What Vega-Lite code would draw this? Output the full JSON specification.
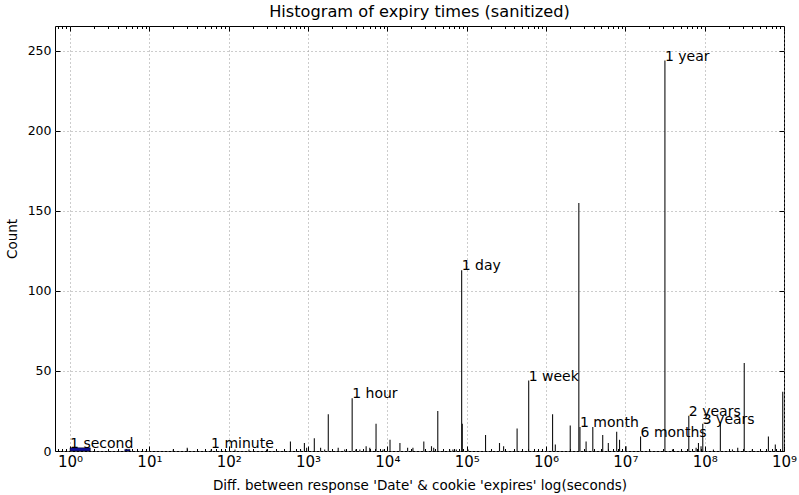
{
  "$schema": "https://vega.github.io/schema/vega-lite/v6.json",
  "autosize": {"type": "none"},
  "padding": {"left": 55, "top": 26, "right": 15, "bottom": 44},
  "width": 729,
  "height": 425,
  "background": "white",
  "config": {
    "font": "DejaVu Sans",
    "view": {"stroke": "#000", "strokeWidth": 1},
    "axis": {"domain": false, "labelColor": "#000", "titleColor": "#000", "tickColor": "#000", "labelFontSize": 12.5, "titleFontSize": 13.5, "titleFontWeight": "normal"}
  },
  "title": {"text": "Histogram of expiry times (sanitized)", "fontSize": 16.2, "fontWeight": "normal", "color": "#000", "anchor": "middle", "offset": 5},
  "datasets": {
    "spikes": [
      {"t": 20, "n": 1}, {"t": 30, "n": 2}, {"t": 60, "n": 1}, {"t": 120, "n": 1}, {"t": 180, "n": 1},
      {"t": 300, "n": 1}, {"t": 600, "n": 6}, {"t": 805, "n": 1}, {"t": 900, "n": 5}, {"t": 960, "n": 2},
      {"t": 1200, "n": 8}, {"t": 1440, "n": 2}, {"t": 1620, "n": 1}, {"t": 1800, "n": 23}, {"t": 2400, "n": 2},
      {"t": 2900, "n": 1}, {"t": 3600, "n": 33}, {"t": 4000, "n": 1}, {"t": 4500, "n": 1}, {"t": 5400, "n": 3},
      {"t": 6000, "n": 2}, {"t": 7200, "n": 17}, {"t": 8800, "n": 1}, {"t": 10800, "n": 7}, {"t": 14400, "n": 5},
      {"t": 18000, "n": 2}, {"t": 21000, "n": 2}, {"t": 28800, "n": 6}, {"t": 36000, "n": 3}, {"t": 38400, "n": 2},
      {"t": 43200, "n": 25}, {"t": 61000, "n": 1}, {"t": 67000, "n": 1}, {"t": 74000, "n": 1}, {"t": 86400, "n": 113},
      {"t": 88000, "n": 17}, {"t": 104000, "n": 1}, {"t": 172800, "n": 10}, {"t": 259200, "n": 5}, {"t": 292000, "n": 3},
      {"t": 432000, "n": 14}, {"t": 604800, "n": 44}, {"t": 1209600, "n": 23}, {"t": 1310000, "n": 4}, {"t": 2020000, "n": 16},
      {"t": 2592000, "n": 155}, {"t": 2678400, "n": 15}, {"t": 3200000, "n": 6}, {"t": 3888000, "n": 15}, {"t": 5184000, "n": 10},
      {"t": 6100000, "n": 5}, {"t": 7776000, "n": 12}, {"t": 8450000, "n": 7}, {"t": 10200000, "n": 3}, {"t": 15552000, "n": 9},
      {"t": 20200000, "n": 1}, {"t": 31536000, "n": 244}, {"t": 39300000, "n": 1}, {"t": 63072000, "n": 22}, {"t": 78000000, "n": 2},
      {"t": 83500000, "n": 5}, {"t": 90000000, "n": 3}, {"t": 94608000, "n": 17}, {"t": 129000000, "n": 1}, {"t": 157680000, "n": 18},
      {"t": 224000000, "n": 1}, {"t": 261000000, "n": 2}, {"t": 315360000, "n": 55}, {"t": 398000000, "n": 1}, {"t": 636000000, "n": 9},
      {"t": 777000000, "n": 4}, {"t": 964000000, "n": 37}
    ],
    "bins": [
      {"t0": 1, "t1": 1.8, "n": 2},
      {"t0": 4.9, "t1": 5.7, "n": 1}
    ],
    "labels": [
      {"t": 1, "n": 2, "label": "1 second"},
      {"t": 60, "n": 2, "label": "1 minute"},
      {"t": 3600, "n": 33, "label": "1 hour"},
      {"t": 86400, "n": 113, "label": "1 day"},
      {"t": 604800, "n": 44, "label": "1 week"},
      {"t": 2678400, "n": 15, "label": "1 month"},
      {"t": 15552000, "n": 9, "label": "6 months"},
      {"t": 31536000, "n": 244, "label": "1 year"},
      {"t": 63072000, "n": 22, "label": "2 years"},
      {"t": 94608000, "n": 17, "label": "3 years"}
    ]
  },
  "resolve": {"axis": {"x": "independent", "y": "independent"}},
  "layer": [
    {
      "data": {"name": "spikes"},
      "mark": {"type": "rule", "color": "#111", "strokeWidth": 1.1},
      "encoding": {
        "x": {
          "field": "t", "type": "quantitative",
          "scale": {"type": "log", "domain": [0.646, 1000000000], "nice": false, "zero": false},
          "axis": {
            "orient": "bottom",
            "title": "Diff. between response 'Date' & cookie 'expires' log(seconds)",
            "titlePadding": 7,
            "values": [0.7,0.8,0.9,1,2,3,4,5,6,7,8,9,10,20,30,40,50,60,70,80,90,100,200,300,400,500,600,700,800,900,1000,2000,3000,4000,5000,6000,7000,8000,9000,10000,20000,30000,40000,50000,60000,70000,80000,90000,100000,200000,300000,400000,500000,600000,700000,800000,900000,1000000,2000000,3000000,4000000,5000000,6000000,7000000,8000000,9000000,10000000,20000000,30000000,40000000,50000000,60000000,70000000,80000000,90000000,100000000,200000000,300000000,400000000,500000000,600000000,700000000,800000000,900000000,1000000000],
            "labelExpr": "abs(log(datum.value)/LN10 - round(log(datum.value)/LN10)) < 0.001 ? '10' + ['⁰','¹','²','³','⁴','⁵','⁶','⁷','⁸','⁹'][round(log(datum.value)/LN10)] : ''",
            "labelOverlap": false,
            "labelFlush": false,
            "labelFontSize": 15,
            "labelPadding": 8,
            "tickSize": {"condition": {"test": "abs(log(datum.value)/LN10 - round(log(datum.value)/LN10)) < 0.001", "value": -5}, "value": -2.5},
            "grid": true,
            "gridColor": "#999",
            "gridDash": [1, 3],
            "gridOpacity": {"condition": {"test": "abs(log(datum.value)/LN10 - round(log(datum.value)/LN10)) < 0.001", "value": 1}, "value": 0}
          }
        },
        "y": {
          "field": "n", "type": "quantitative",
          "scale": {"domain": [0, 265.6], "nice": false, "zero": true},
          "axis": {
            "orient": "left",
            "title": "Count",
            "titlePadding": 8,
            "values": [0, 50, 100, 150, 200, 250],
            "tickSize": -5,
            "labelPadding": 9,
            "grid": true,
            "gridColor": "#999",
            "gridDash": [1, 3]
          }
        },
        "y2": {"datum": 0}
      }
    },
    {
      "data": {"name": "bins"},
      "mark": {"type": "rect", "fill": "#10109a", "stroke": "#000", "strokeWidth": 0.5},
      "encoding": {
        "x": {"field": "t0", "type": "quantitative", "scale": {"type": "log", "domain": [0.646, 1000000000], "nice": false, "zero": false}, "axis": null},
        "x2": {"field": "t1"},
        "y": {"field": "n", "type": "quantitative", "scale": {"domain": [0, 265.6], "nice": false, "zero": true}, "axis": null},
        "y2": {"datum": 0}
      }
    },
    {
      "data": {"name": "labels"},
      "mark": {"type": "text", "align": "left", "baseline": "alphabetic", "fontSize": 14, "color": "#000", "dx": 0},
      "encoding": {
        "x": {
          "field": "t", "type": "quantitative",
          "scale": {"type": "log", "domain": [0.646, 1000000000], "nice": false, "zero": false},
          "axis": {
            "orient": "top", "title": null, "labels": false, "grid": false,
            "values": [0.7,0.8,0.9,1,2,3,4,5,6,7,8,9,10,20,30,40,50,60,70,80,90,100,200,300,400,500,600,700,800,900,1000,2000,3000,4000,5000,6000,7000,8000,9000,10000,20000,30000,40000,50000,60000,70000,80000,90000,100000,200000,300000,400000,500000,600000,700000,800000,900000,1000000,2000000,3000000,4000000,5000000,6000000,7000000,8000000,9000000,10000000,20000000,30000000,40000000,50000000,60000000,70000000,80000000,90000000,100000000,200000000,300000000,400000000,500000000,600000000,700000000,800000000,900000000,1000000000],
            "tickSize": {"condition": {"test": "abs(log(datum.value)/LN10 - round(log(datum.value)/LN10)) < 0.001", "value": -5}, "value": -2.5}
          }
        },
        "y": {
          "field": "n", "type": "quantitative",
          "scale": {"domain": [0, 265.6], "nice": false, "zero": true},
          "axis": {"orient": "right", "title": null, "labels": false, "grid": false, "values": [0, 50, 100, 150, 200, 250], "tickSize": -5}
        },
        "text": {"field": "label", "type": "nominal"}
      }
    }
  ]
}
